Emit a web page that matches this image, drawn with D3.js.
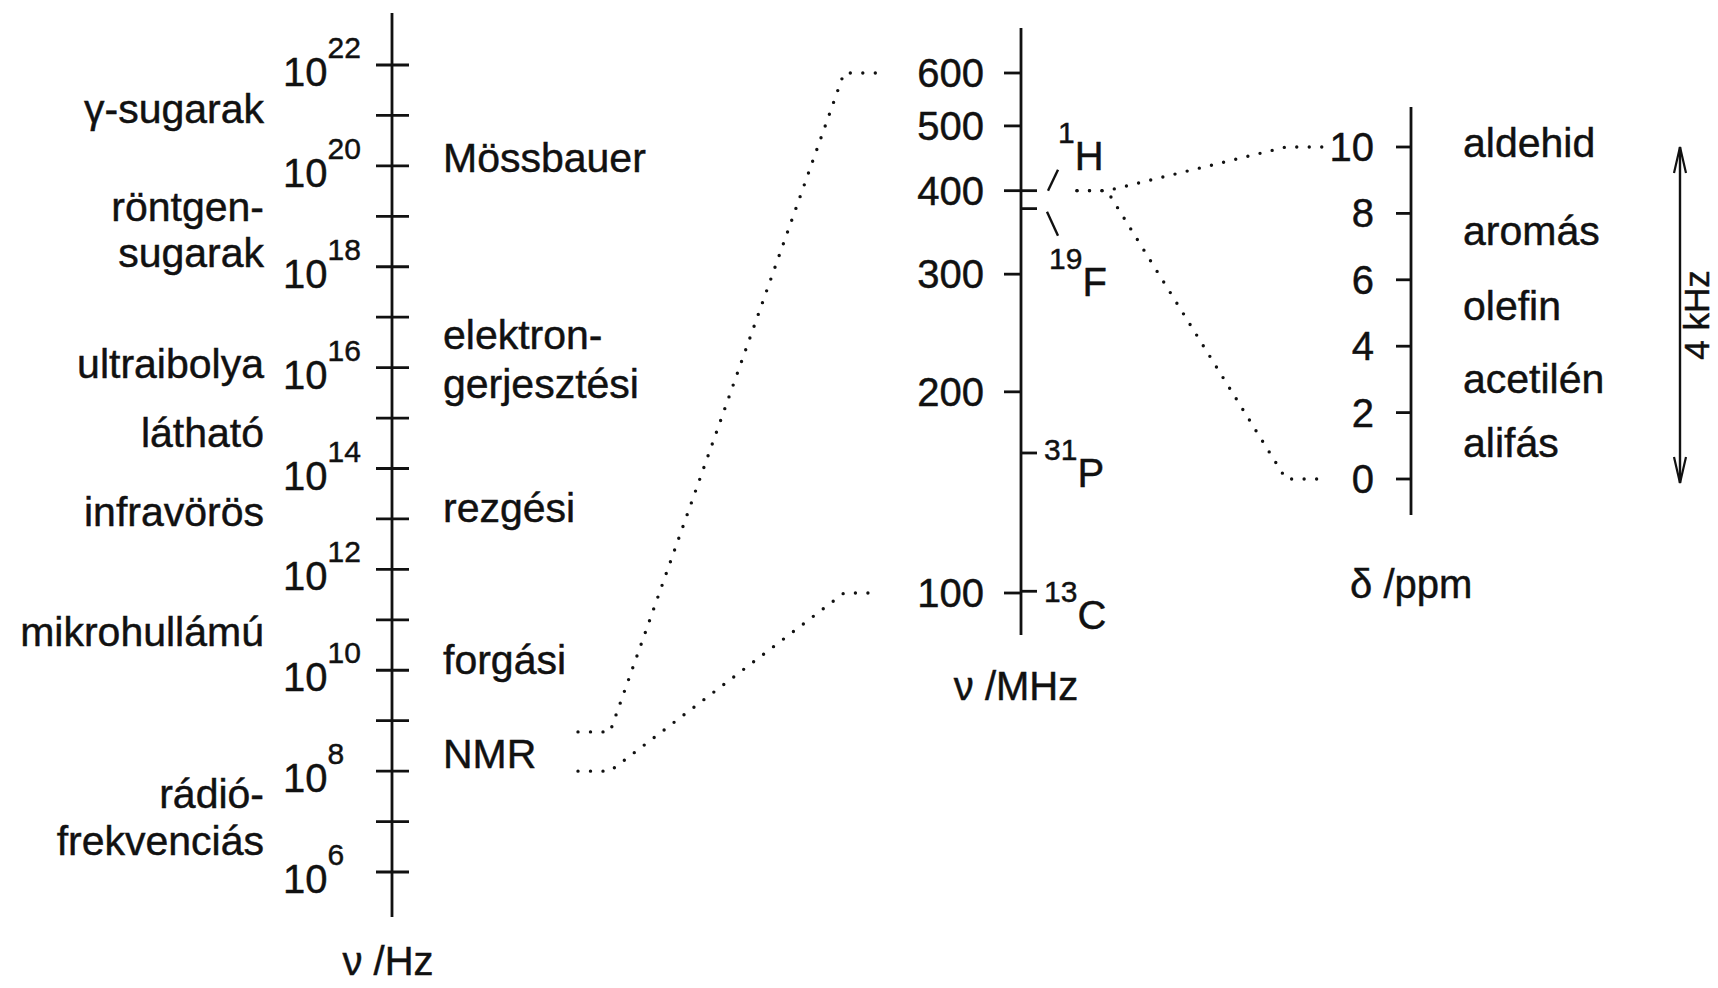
<!DOCTYPE html>
<html>
<head>
<meta charset="utf-8">
<script src="https://cdn.jsdelivr.net/npm/d3@7"></script>
<style>
  html, body { margin: 0; padding: 0; background: #fff; }
  svg { display: block; }
  text { font-family: "Liberation Sans", Arial, Helvetica, sans-serif; fill: #111;
         stroke: #111; stroke-width: 0.45px; }
</style>
</head>
<body>
<svg id="chart" width="1718" height="988"></svg>
<script>
// ---- Electromagnetic spectrum (ν / Hz, log scale) ----
const hzTickExps  = [22, 21, 20, 19, 18, 17, 16, 15, 14, 13, 12, 11, 10, 9, 8, 7, 6];
const hzLabelExps = [22, 20, 18, 16, 14, 12, 10, 8, 6];
// spectral regions, placed at log10(ν/Hz) of each text line
const regionNames = ["γ-sugarak", "röntgen-", "sugarak", "ultraibolya", "látható",
                     "infravörös", "mikrohullámú", "rádió-", "frekvenciás"];
const regionExps  = [20.85, 18.9, 18.0, 15.8, 14.42, 12.86, 10.48, 7.26, 6.33];
// spectroscopic transitions
const transNames = ["Mössbauer", "elektron-", "gerjesztési", "rezgési", "forgási", "NMR"];
const transExps  = [19.88, 16.37, 15.4, 12.94, 9.93, 8.06];

// ---- NMR frequencies (ν / MHz, log scale) ----
const mhzTicks = [600, 500, 400, 300, 200, 100];
const nucMass  = ["1", "19", "31", "13"];
const nucSym   = ["H", "F", "P", "C"];
const nucMHz   = [400, 376, 162, 100.6];
// NMR window of the spectrum axis, in Hz, mapped onto the MHz axis
const nmrHz  = [6e8, 1e8];
const nmrMHz = [600, 100];

// ---- 1H chemical shift (δ / ppm) ----
const ppmTicks   = [10, 8, 6, 4, 2, 0];
const shiftNames = ["aldehid", "aromás", "olefin", "acetilén", "alifás"];
const shiftPpm   = [9.7, 7.05, 4.8, 2.6, 0.66];
const shiftSpan  = [10, 0];       // ppm range linked to the 1H line
const spanLabel  = "4 kHz";

const svg = d3.select("#chart");
const ink = "#111";
const W = 2.8;

// scales
const yHz  = d3.scaleLinear().domain([6, 22]).range([872, 65]);          // on log10(ν)
const yMHz = d3.scaleLog().domain([100, 600]).range([593, 73]);
const yPpm = d3.scaleLinear().domain([0, 10]).range([479, 147]);

function line(x1, y1, x2, y2, w) {
  svg.append("line").attr("x1", x1).attr("y1", y1).attr("x2", x2).attr("y2", y2)
    .attr("stroke", ink).attr("stroke-width", w || W).attr("stroke-linecap", "butt");
}

// ===== left axis =====
const xL = 392;
line(xL, 13, xL, 917);
hzTickExps.forEach(e => line(xL - 16, yHz(e), xL + 17, yHz(e)));
hzLabelExps.forEach(e => {
  const t = svg.append("text").attr("x", 283).attr("y", yHz(e) + 21).attr("font-size", 40);
  t.append("tspan").text("10");
  t.append("tspan").attr("font-size", 30).attr("dy", -28).text(e);
});
regionNames.forEach((n, i) => {
  svg.append("text").attr("x", 264).attr("y", yHz(regionExps[i]))
    .attr("text-anchor", "end").attr("font-size", 41).text(n);
});
transNames.forEach((n, i) => {
  svg.append("text").attr("x", 443).attr("y", yHz(transExps[i]))
    .attr("font-size", 41).text(n);
});
svg.append("text").attr("x", 388).attr("y", 975).attr("text-anchor", "middle")
  .attr("font-size", 40).text("ν /Hz");

// ===== middle axis =====
const xM = 1021;
line(xM, 28, xM, 635);
mhzTicks.forEach(v => {
  line(xM - 17, yMHz(v), xM, yMHz(v));
  svg.append("text").attr("x", 984).attr("y", yMHz(v) + 14)
    .attr("text-anchor", "end").attr("font-size", 40).text(v);
});
// nucleus labels: [x of label, main-baseline offset from tick]
const nucLayout = [[1058, -21], [1049, 87], [1044, 34], [1044, 38]];
nucMHz.forEach((v, i) => {
  const y = yMHz(v);
  line(xM, y, xM + 16, y);
  const t = svg.append("text").attr("x", nucLayout[i][0]).attr("y", y + nucLayout[i][1] - 27)
    .attr("font-size", 30);
  t.append("tspan").text(nucMass[i]);
  t.append("tspan").attr("font-size", 40).attr("dy", 27).text(nucSym[i]);
});
// leader strokes to the 1H and 19F labels
line(1048, yMHz(400), 1058, yMHz(400) - 21, 2.4);
line(1047, yMHz(376) + 3, 1058, yMHz(376) + 27, 2.4);
svg.append("text").attr("x", 1016).attr("y", 700).attr("text-anchor", "middle")
  .attr("font-size", 40).text("ν /MHz");

// ===== right axis =====
const xR = 1411;
line(xR, 107, xR, 515);
ppmTicks.forEach(v => {
  line(xR - 15, yPpm(v), xR, yPpm(v));
  svg.append("text").attr("x", 1374).attr("y", yPpm(v) + 14)
    .attr("text-anchor", "end").attr("font-size", 40).text(v);
});
shiftNames.forEach((n, i) => {
  svg.append("text").attr("x", 1463).attr("y", yPpm(shiftPpm[i]))
    .attr("font-size", 41).text(n);
});
svg.append("text").attr("x", 1350).attr("y", 598).attr("font-size", 40).text("δ /ppm");

// 4 kHz double arrow over the δ range
const xA = 1680;
const yTop = yPpm(d3.max(shiftSpan)), yBot = yPpm(d3.min(shiftSpan)) + 4;
line(xA, yTop, xA, yBot, 2.4);
[[yTop, 1], [yBot, -1]].forEach(([y, s]) => {
  svg.append("path")
    .attr("d", `M${xA - 6},${y + s * 26} L${xA},${y} L${xA + 6},${y + s * 26}`)
    .attr("fill", "none").attr("stroke", ink).attr("stroke-width", 2.2);
});
svg.append("text").attr("transform", `translate(1709,${(yTop + yBot) / 2}) rotate(-90)`)
  .attr("text-anchor", "middle").attr("font-size", 35).text(spanLabel);

// ===== dotted zoom links =====
function dotted(pts) {
  svg.append("path").attr("d", d3.line()(pts))
    .attr("fill", "none").attr("stroke", ink).attr("stroke-width", 3.4)
    .attr("stroke-linecap", "round").attr("stroke-dasharray", "0 12.5");
}
nmrHz.forEach((hz, i) => {
  const y0 = yHz(Math.log10(hz)), y1 = yMHz(nmrMHz[i]);
  const xEnd = i === 0 ? 880 : 868;
  dotted([[578, y0], [610, y0], [844, y1], [xEnd, y1]]);
});
shiftSpan.forEach(d => {
  const y0 = yMHz(nucMHz[0]), y1 = yPpm(d);
  dotted([[1077, y0], [1107, y0], [1286, y1], [1324, y1]]);
});
</script>
</body>
</html>
